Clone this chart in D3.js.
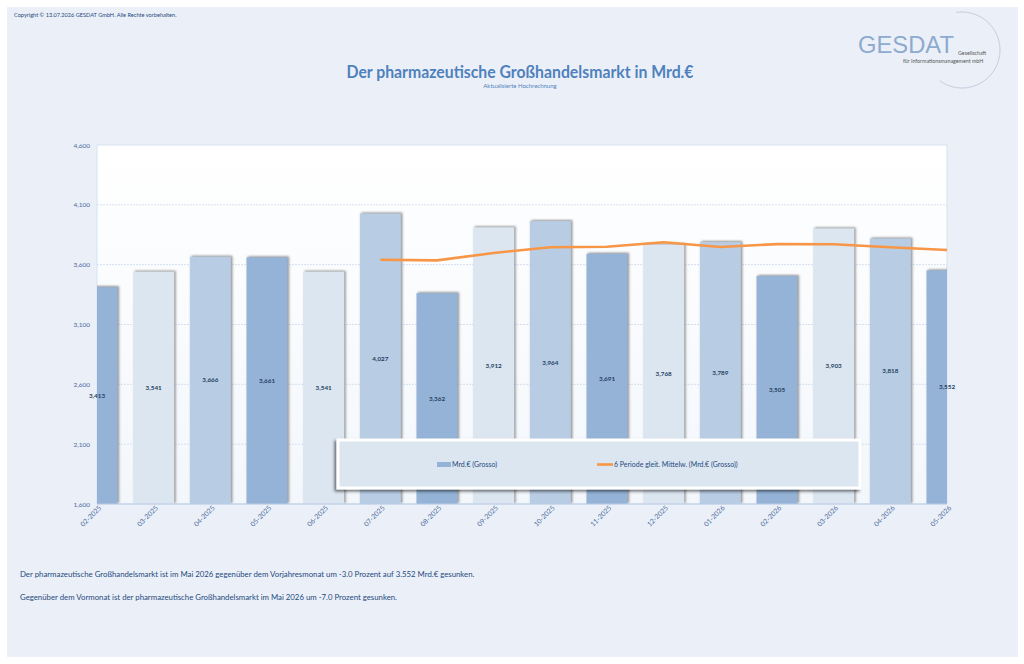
<!DOCTYPE html>
<html>
<head>
<meta charset="utf-8">
<script src="https://cdn.jsdelivr.net/npm/d3@7"></script>
<style>
  html, body { margin: 0; padding: 0; background: #fff; }
  svg { display: block; font-family: Lato, "Liberation Sans", sans-serif; }
</style>
</head>
<body>
<div id="grafico"></div>
<script>
// Monate (Kategorien)
const monate = ["02-2025", "03-2025", "04-2025", "05-2025", "06-2025", "07-2025", "08-2025", "09-2025",
  "10-2025", "11-2025", "12-2025", "01-2026", "02-2026", "03-2026", "04-2026", "05-2026"];
// Mrd.€ (Grosso)
const werte = [3413, 3541, 3666, 3661, 3541, 4027, 3362, 3912, 3964, 3691, 3768, 3789, 3505, 3903, 3818, 3552];
// 6 Periode gleitender Mittelwert (ab 07-2025)
const mittelMonate = ["07-2025", "08-2025", "09-2025", "10-2025", "11-2025", "12-2025", "01-2026", "02-2026", "03-2026", "04-2026", "05-2026"];
const mittelWerte = [3641, 3636, 3698, 3745, 3750, 3787, 3748, 3772, 3770, 3746, 3723];
// Achse
const yTicks = [1600, 2100, 2600, 3100, 3600, 4100, 4600];

const width = 1024;
const height = 664;
const plot = { left: 97, right: 947, top: 145, bottom: 504 };

const svg = d3.select("#grafico").append("svg")
  .attr("width", width)
  .attr("height", height);

const defs = svg.append("defs");
const grad = defs.append("linearGradient").attr("id", "plotBg")
  .attr("x1", 0).attr("y1", 0).attr("x2", 0).attr("y2", 1);
grad.append("stop").attr("offset", "0%").attr("stop-color", "#ffffff");
grad.append("stop").attr("offset", "100%").attr("stop-color", "#f3f7fc");

defs.append("clipPath").attr("id", "plotClip")
  .append("rect")
  .attr("x", plot.left).attr("y", plot.top - 10)
  .attr("width", plot.right - plot.left).attr("height", plot.bottom - plot.top + 10);

const shadow = defs.append("filter").attr("id", "barShadow")
  .attr("x", "-20%").attr("y", "-5%").attr("width", "140%").attr("height", "110%");
shadow.append("feDropShadow").attr("dx", 1.5).attr("dy", -1).attr("stdDeviation", 0.8)
  .attr("flood-color", "#7f7f7f").attr("flood-opacity", 0.85);

const legShadow = defs.append("filter").attr("id", "legShadow")
  .attr("x", "-5%").attr("y", "-20%").attr("width", "110%").attr("height", "150%");
legShadow.append("feDropShadow").attr("dx", -2).attr("dy", 2).attr("stdDeviation", 1.8)
  .attr("flood-color", "#000").attr("flood-opacity", 0.55);

// Hintergrund
svg.append("rect").attr("x", 7).attr("y", 7).attr("width", 1011).attr("height", 650)
  .attr("fill", "#ebf0f8");

// Copyright
svg.append("text").attr("x", 14).attr("y", 17)
  .attr("font-size", 5.6).attr("fill", "#1f497d")
  .text("Copyright © 13.07.2026 GESDAT GmbH. Alle Rechte vorbehalten.");

// Logo
svg.append("path")
  .attr("d", d3.arc()({ innerRadius: 38, outerRadius: 38, startAngle: -0.15, endAngle: Math.PI * 1.2 }))
  .attr("transform", "translate(962,50)")
  .attr("fill", "none").attr("stroke", "#c9d3e0").attr("stroke-width", 0.8);
const logo = svg.append("text").attr("x", 858).attr("y", 53)
  .attr("font-family", "'Liberation Sans Narrow', 'Liberation Sans', sans-serif")
  .attr("font-size", 29).attr("fill", "#8eaacf")
  .text("GESDAT");
// Schriftgröße so anpassen, dass das Logo ca. 96px breit ist
const logoW = logo.node().getComputedTextLength();
logo.attr("font-size", 29 * 96 / logoW);
svg.append("text").attr("x", 958).attr("y", 55)
  .attr("font-size", 5.3).attr("fill", "#555").text("Gesellschaft");
svg.append("text").attr("x", 903).attr("y", 63)
  .attr("font-size", 5.3).attr("fill", "#555").text("für Informationsmanagement mbH");

// Titel
svg.append("text").attr("x", 520).attr("y", 78).attr("text-anchor", "middle")
  .attr("font-size", 16.5).attr("font-weight", "bold").attr("fill", "#4f81bd")
  .attr("textLength", 347).attr("lengthAdjust", "spacingAndGlyphs")
  .text("Der pharmazeutische Großhandelsmarkt in Mrd.€");
svg.append("text").attr("x", 520).attr("y", 88).attr("text-anchor", "middle")
  .attr("font-size", 6).attr("fill", "#4f81bd")
  .text("Aktualisierte Hochrechnung");

// Skalen
const x = d3.scalePoint().domain(monate).range([plot.left, plot.right]);
const y = d3.scaleLinear().domain([1600, 4600]).range([plot.bottom, plot.top]);
const barW = 41;
const farben = ["#95b3d7", "#dce6f1", "#b8cce4"];

// Plotbereich
svg.append("rect")
  .attr("x", plot.left).attr("y", plot.top)
  .attr("width", plot.right - plot.left).attr("height", plot.bottom - plot.top)
  .attr("fill", "url(#plotBg)").attr("stroke", "#d6e1f0").attr("stroke-width", 1);

// Gitternetz
svg.append("g").selectAll("line")
  .data(yTicks.slice(1, -1))
  .join("line")
  .attr("x1", plot.left).attr("x2", plot.right)
  .attr("y1", (d) => y(d)).attr("y2", (d) => y(d))
  .attr("stroke", "#d5e0ef").attr("stroke-dasharray", "2,1");

// Balken
svg.append("g").attr("clip-path", "url(#plotClip)")
  .selectAll("rect")
  .data(werte)
  .join("rect")
  .attr("x", (d, i) => x(monate[i]) - barW / 2)
  .attr("y", (d) => y(d))
  .attr("width", barW)
  .attr("height", (d) => y(1600) - y(d))
  .attr("fill", (d, i) => farben[i % 3])
  .attr("filter", "url(#barShadow)");

// Achse unten
svg.append("line")
  .attr("x1", plot.left).attr("x2", plot.right)
  .attr("y1", plot.bottom).attr("y2", plot.bottom)
  .attr("stroke", "#b9cce6").attr("stroke-width", 1.2);

// Y-Achse
const yAxis = svg.append("g")
  .attr("transform", `translate(${plot.left - 4},0)`)
  .call(d3.axisLeft(y).tickValues(yTicks).tickSize(0).tickFormat(d3.format(",")));
yAxis.select(".domain").remove();
yAxis.selectAll("text").attr("font-size", 6.5).attr("fill", "#4a6a9c")
  .attr("font-family", "Lato, 'Liberation Sans', sans-serif");

// X-Achse
const xAxis = svg.append("g")
  .attr("transform", `translate(0,${plot.bottom + 3})`)
  .call(d3.axisBottom(x).tickSize(0).tickPadding(0));
xAxis.select(".domain").remove();
xAxis.selectAll("text")
  .attr("font-size", 6.8).attr("fill", "#4a6a9c")
  .attr("font-family", "Lato, 'Liberation Sans', sans-serif")
  .attr("text-anchor", "end")
  .attr("dy", "0.6em").attr("dx", "0.3em")
  .attr("transform", "rotate(-45)");

// Gleitender Mittelwert
const linie = d3.line()
  .x((d, i) => x(mittelMonate[i]))
  .y((d) => y(d));
svg.append("path")
  .datum(mittelWerte)
  .attr("d", linie)
  .attr("fill", "none").attr("stroke", "#f79646").attr("stroke-width", 2.6);

// Werte-Beschriftung
svg.append("g").selectAll("text")
  .data(werte)
  .join("text")
  .attr("x", (d, i) => x(monate[i]))
  .attr("y", (d) => (y(d) + y(1600)) / 2 + 2)
  .attr("text-anchor", "middle")
  .attr("font-size", 6.3).attr("font-weight", "bold").attr("fill", "#243f60")
  .text((d) => d3.format(",")(d));

// Legende
const leg = svg.append("g");
leg.append("rect")
  .attr("x", 338).attr("y", 440).attr("width", 522).attr("height", 48)
  .attr("fill", "#dce6f1").attr("stroke", "#ffffff").attr("stroke-width", 3)
  .attr("filter", "url(#legShadow)");
leg.append("rect").attr("x", 437).attr("y", 462).attr("width", 14).attr("height", 5)
  .attr("fill", "#95b3d7");
leg.append("text").attr("x", 452).attr("y", 467)
  .attr("font-size", 7).attr("fill", "#1f497d").text("Mrd.€ (Grosso)");
leg.append("line").attr("x1", 597).attr("x2", 613).attr("y1", 464.5).attr("y2", 464.5)
  .attr("stroke", "#f79646").attr("stroke-width", 2.6);
leg.append("text").attr("x", 614).attr("y", 467)
  .attr("font-size", 7).attr("fill", "#1f497d").text("6 Periode gleit. Mittelw. (Mrd.€ (Grosso))");

// Fußtext
svg.append("text").attr("x", 20).attr("y", 577)
  .attr("font-size", 7.8).attr("fill", "#1f497d")
  .text("Der pharmazeutische Großhandelsmarkt ist im Mai 2026 gegenüber dem Vorjahresmonat um -3.0 Prozent auf 3.552 Mrd.€ gesunken.");
svg.append("text").attr("x", 20).attr("y", 600)
  .attr("font-size", 7.8).attr("fill", "#1f497d")
  .text("Gegenüber dem Vormonat ist der pharmazeutische Großhandelsmarkt im Mai 2026 um -7.0 Prozent gesunken.");
</script>
</body>
</html>
